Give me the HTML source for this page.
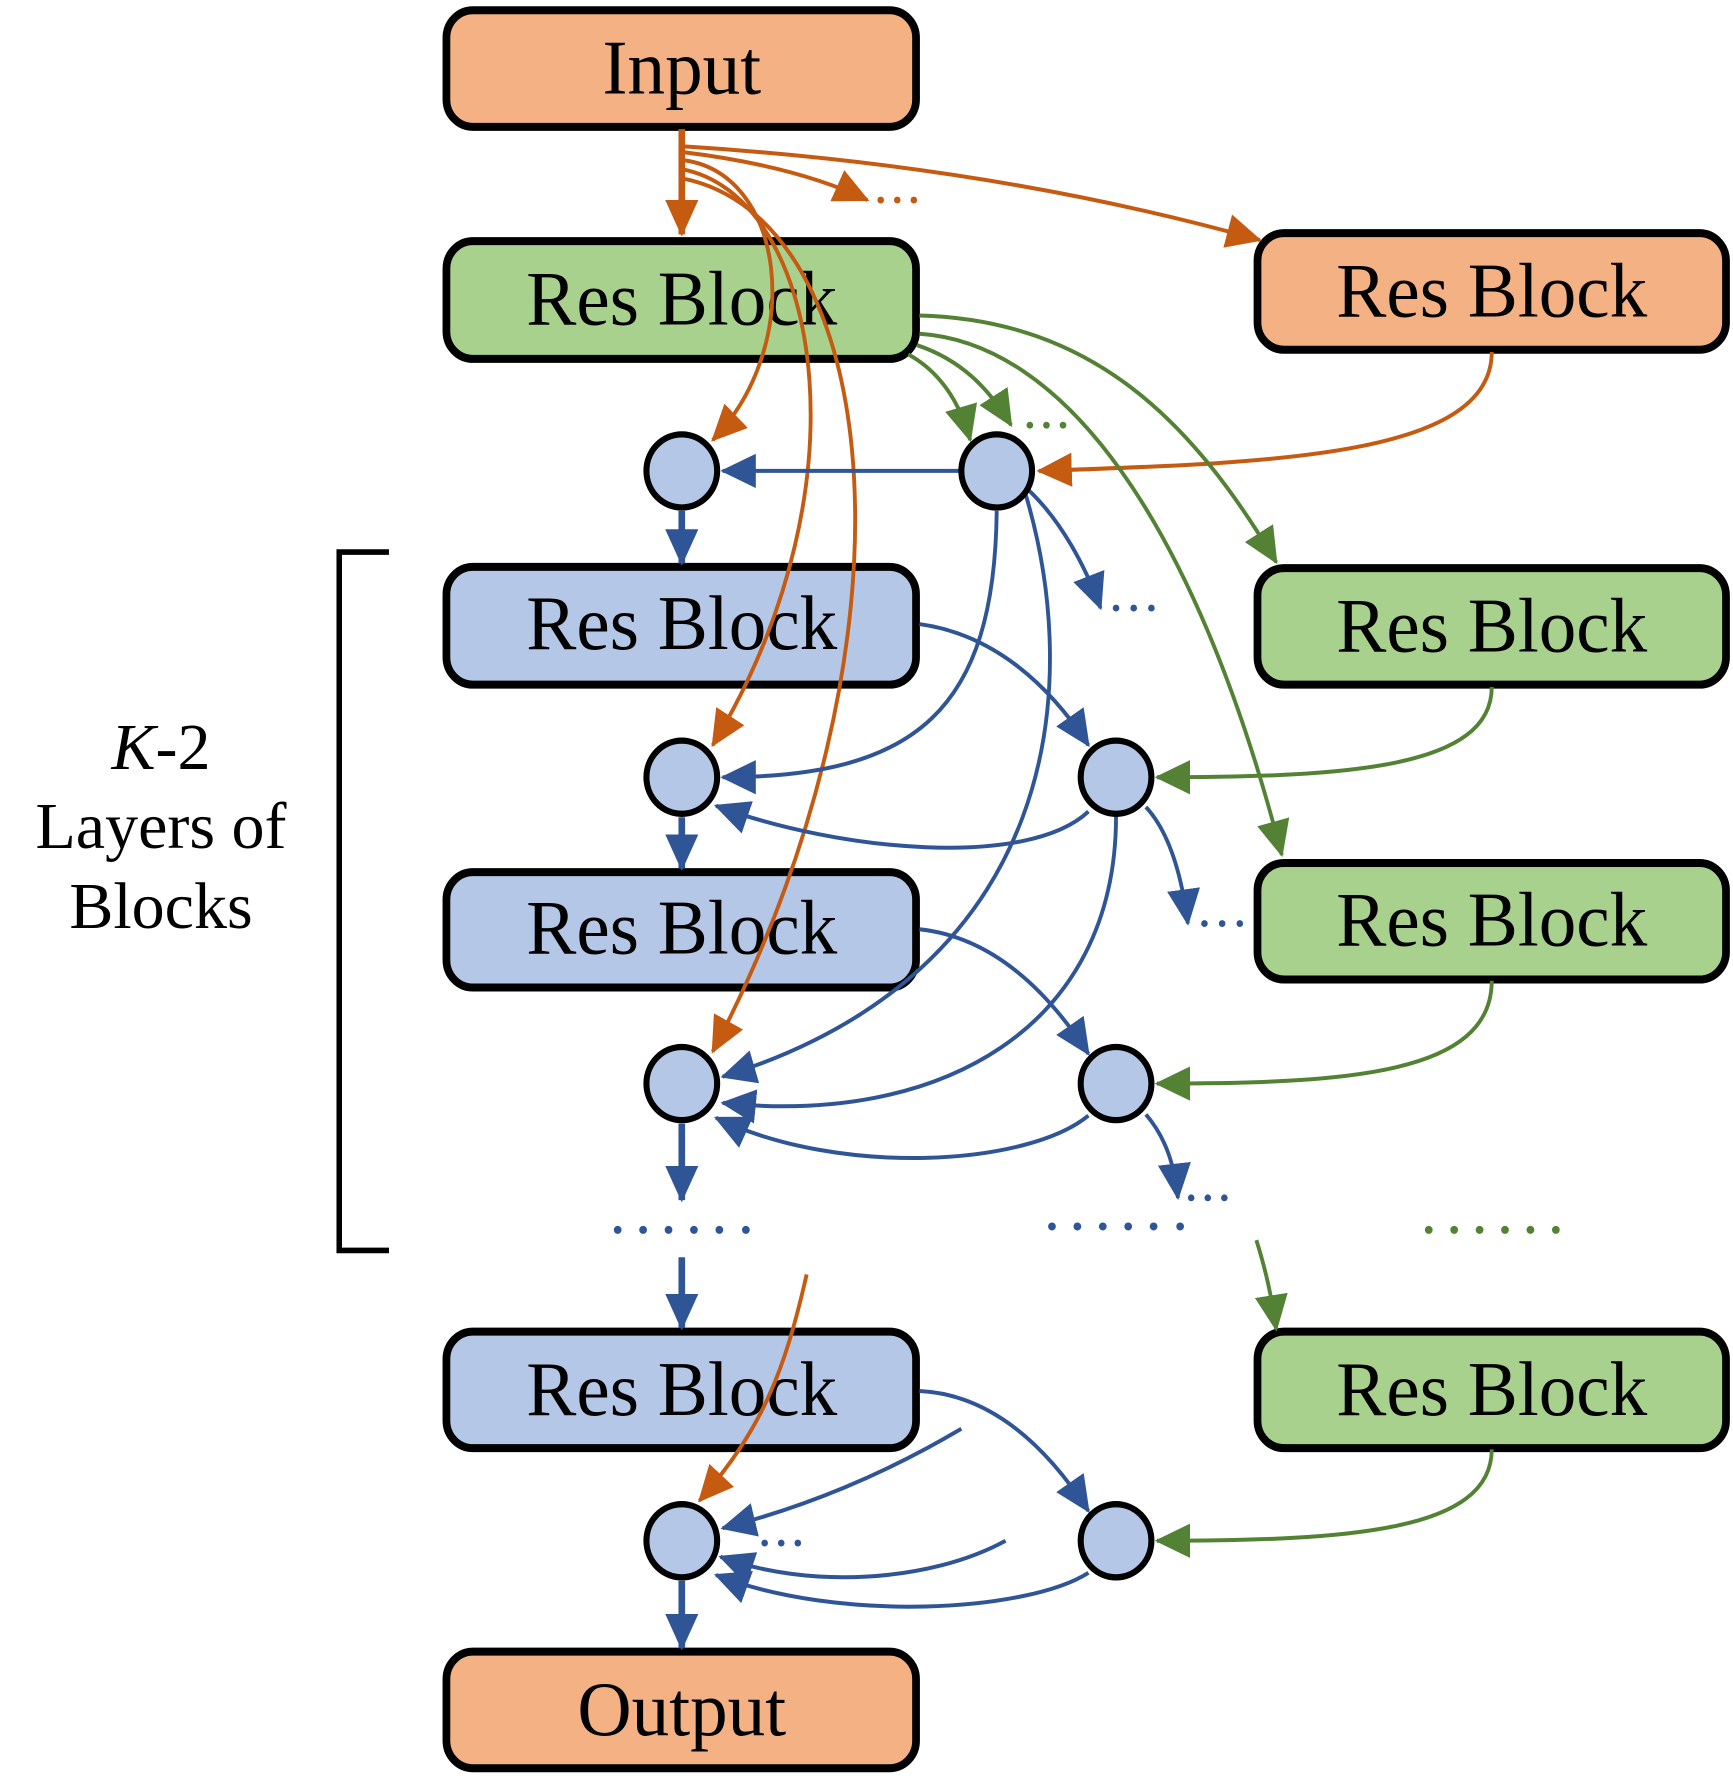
<!DOCTYPE html>
<html><head><meta charset="utf-8"><style>html,body{margin:0;padding:0;background:#fff}svg{display:block}</style></head>
<body>
<svg width="1733" height="1792" viewBox="0 0 1733 1792" xmlns="http://www.w3.org/2000/svg">
<defs>
<marker id="ao" markerUnits="userSpaceOnUse" markerWidth="34" markerHeight="30" refX="30" refY="15" orient="auto"><path d="M0,0 L32,15 L0,30 z" fill="#C55A11"/></marker>
<marker id="ag" markerUnits="userSpaceOnUse" markerWidth="34" markerHeight="30" refX="30" refY="15" orient="auto"><path d="M0,0 L32,15 L0,30 z" fill="#548235"/></marker>
<marker id="ab" markerUnits="userSpaceOnUse" markerWidth="34" markerHeight="30" refX="30" refY="15" orient="auto"><path d="M0,0 L32,15 L0,30 z" fill="#2F5597"/></marker>
</defs>
<g transform="scale(1.105,1.143)" font-family="Liberation Serif, serif" font-size="68" text-anchor="middle">
<g stroke="#000" stroke-width="7">
<rect x="404" y="9" width="425" height="102" rx="24" fill="#F4B183"/>
<rect x="404" y="211" width="425" height="103" rx="24" fill="#A9D18E"/>
<rect x="1138" y="204" width="424" height="102" rx="24" fill="#F4B183"/>
<rect x="404" y="496" width="425" height="103" rx="24" fill="#B4C7E7"/>
<rect x="1138" y="497" width="424" height="102" rx="24" fill="#A9D18E"/>
<rect x="404" y="763" width="425" height="101" rx="24" fill="#B4C7E7"/>
<rect x="1138" y="755" width="424" height="102" rx="24" fill="#A9D18E"/>
<rect x="404" y="1165" width="425" height="102" rx="24" fill="#B4C7E7"/>
<rect x="1138" y="1165" width="424" height="102" rx="24" fill="#A9D18E"/>
<rect x="404" y="1445" width="425" height="102" rx="24" fill="#F4B183"/>
</g>
<g fill="#000">
<text x="617" y="82">Input</text>
<text x="617" y="284">Res Block</text>
<text x="1350" y="277">Res Block</text>
<text x="617" y="568">Res Block</text>
<text x="1350" y="570">Res Block</text>
<text x="617" y="834">Res Block</text>
<text x="1350" y="827">Res Block</text>
<text x="617" y="1238">Res Block</text>
<text x="1350" y="1238">Res Block</text>
<text x="617" y="1518">Output</text>
</g>
<path d="M352,483 L307,483 L307,1094 L352,1094" fill="none" stroke="#000" stroke-width="5"/>
<g fill="none" stroke="#C55A11" stroke-width="3.5">
<path d="M617,113 L617,205" stroke-width="6" marker-end="url(#ao)"/>
<path d="M617,128 Q900,145 1140,210" marker-end="url(#ao)"/>
<path d="M617,133 Q720,145 785,175" marker-end="url(#ao)"/>
<path d="M617,140 C710,150 730,300 645,385" marker-end="url(#ao)"/>
<path d="M617,148 C740,170 790,420 645,652" marker-end="url(#ao)"/>
<path d="M617,156 C800,190 840,560 645,920" marker-end="url(#ao)"/>
<path d="M1350,308 C1350,400 1150,405 940,412" marker-end="url(#ao)"/>
<path d="M730,1115 C710,1200 690,1250 633,1313" marker-end="url(#ao)"/>
</g>
<g fill="#C55A11"><circle cx="797" cy="175" r="3"/><circle cx="812" cy="175" r="3"/><circle cx="827" cy="175" r="3"/></g>
<g fill="none" stroke="#548235" stroke-width="3.5">
<path d="M832,276 C990,280 1080,370 1155,492" marker-end="url(#ag)"/>
<path d="M832,292 C960,300 1080,450 1160,748" marker-end="url(#ag)"/>
<path d="M822,310 C850,325 868,350 878,385" marker-end="url(#ag)"/>
<path d="M830,302 C870,315 895,340 915,372" marker-end="url(#ag)"/>
<path d="M1350,601 C1350,672 1220,680 1047,680" marker-end="url(#ag)"/>
<path d="M1350,858 C1350,940 1220,948 1047,948" marker-end="url(#ag)"/>
<path d="M1350,1268 C1350,1340 1220,1348 1047,1348" marker-end="url(#ag)"/>
<path d="M1137,1085 C1145,1110 1150,1130 1155,1163" marker-end="url(#ag)"/>
</g>
<g fill="#548235"><circle cx="932" cy="372" r="3"/><circle cx="947" cy="372" r="3"/><circle cx="962" cy="372" r="3"/>
<circle cx="1293" cy="1076" r="3.5"/><circle cx="1316" cy="1076" r="3.5"/><circle cx="1339" cy="1076" r="3.5"/><circle cx="1362" cy="1076" r="3.5"/><circle cx="1385" cy="1076" r="3.5"/><circle cx="1408" cy="1076" r="3.5"/></g>
<g fill="none" stroke="#2F5597" stroke-width="3.5">
<path d="M868,412 L654,412" marker-end="url(#ab)"/>
<path d="M617,447 L617,493" stroke-width="6" marker-end="url(#ab)"/>
<path d="M902,447 C900,620 830,680 654,680" marker-end="url(#ab)"/>
<path d="M928,432 C980,600 960,850 654,942" marker-end="url(#ab)"/>
<path d="M930,428 C960,455 982,495 996,532" marker-end="url(#ab)"/>
<path d="M832,546 C900,555 950,600 985,652" marker-end="url(#ab)"/>
<path d="M985,710 C930,760 760,745 648,705" marker-end="url(#ab)"/>
<path d="M1010,714 C1010,900 850,985 654,965" marker-end="url(#ab)"/>
<path d="M1037,706 C1060,730 1070,770 1075,808" marker-end="url(#ab)"/>
<path d="M617,715 L617,760" stroke-width="6" marker-end="url(#ab)"/>
<path d="M832,813 C900,820 950,870 985,922" marker-end="url(#ab)"/>
<path d="M985,976 C930,1020 760,1030 648,978" marker-end="url(#ab)"/>
<path d="M1037,975 C1055,995 1063,1020 1066,1048" marker-end="url(#ab)"/>
<path d="M617,983 L617,1050" stroke-width="6" marker-end="url(#ab)"/>
<path d="M617,1100 L617,1162" stroke-width="6" marker-end="url(#ab)"/>
<path d="M832,1217 C900,1220 950,1270 985,1322" marker-end="url(#ab)"/>
<path d="M870,1250 C800,1290 730,1318 654,1337" marker-end="url(#ab)"/>
<path d="M910,1348 C840,1385 730,1390 652,1362" marker-end="url(#ab)"/>
<path d="M985,1376 C930,1410 760,1420 648,1378" marker-end="url(#ab)"/>
<path d="M617,1383 L617,1442" stroke-width="6" marker-end="url(#ab)"/>
</g>
<g fill="#2F5597">
<circle cx="1010" cy="532" r="3"/><circle cx="1026" cy="532" r="3"/><circle cx="1042" cy="532" r="3"/>
<circle cx="1090" cy="808" r="3"/><circle cx="1106" cy="808" r="3"/><circle cx="1122" cy="808" r="3"/>
<circle cx="1078" cy="1048" r="3"/><circle cx="1093" cy="1048" r="3"/><circle cx="1108" cy="1048" r="3"/>
<circle cx="692" cy="1350" r="3"/><circle cx="707" cy="1350" r="3"/><circle cx="722" cy="1350" r="3"/>
<circle cx="559" cy="1076" r="3.5"/><circle cx="582" cy="1076" r="3.5"/><circle cx="605" cy="1076" r="3.5"/><circle cx="628" cy="1076" r="3.5"/><circle cx="651" cy="1076" r="3.5"/><circle cx="675" cy="1076" r="3.5"/>
<circle cx="952" cy="1073" r="3.5"/><circle cx="975" cy="1073" r="3.5"/><circle cx="998" cy="1073" r="3.5"/><circle cx="1021" cy="1073" r="3.5"/><circle cx="1044" cy="1073" r="3.5"/><circle cx="1068" cy="1073" r="3.5"/>
</g>
<g fill="#B4C7E7" stroke="#000" stroke-width="5.5">
<circle cx="617" cy="412" r="32"/><circle cx="902" cy="412" r="32"/>
<circle cx="617" cy="680" r="32"/><circle cx="1010" cy="680" r="32"/>
<circle cx="617" cy="948" r="32"/><circle cx="1010" cy="948" r="32"/>
<circle cx="617" cy="1348" r="32"/><circle cx="1010" cy="1348" r="32"/>
</g>
</g>
<g font-family="Liberation Serif, serif" font-size="66" text-anchor="middle" fill="#000">
<text x="161" y="769"><tspan font-style="italic">K</tspan>-2</text>
<text x="161" y="848">Layers of</text>
<text x="161" y="928">Blocks</text>
</g>
</svg>
</body></html>
